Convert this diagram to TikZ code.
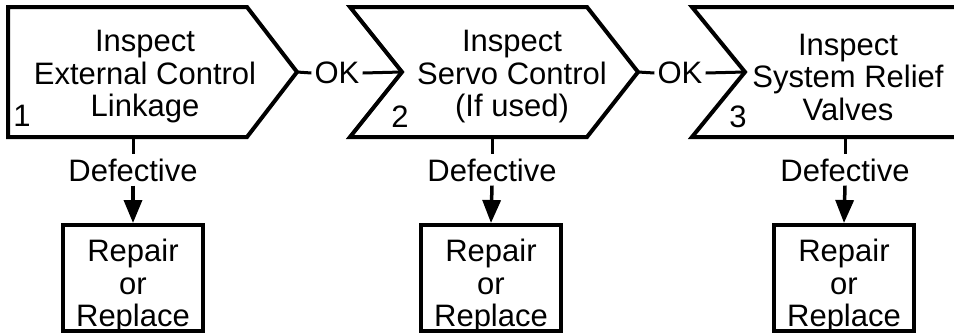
\documentclass[tikz,border=0pt]{standalone}
\usepackage{fontspec}
\setmainfont{Liberation Sans}
\usetikzlibrary{arrows.meta}
\tikzset{
  stepshape/.style={draw=black, line width=4pt, line join=miter, fill=white},
  txt/.style={align=center, inner sep=0pt, font=\fontsize{31}{32.5}\selectfont},
  numtxt/.style={inner sep=0pt, font=\fontsize{31}{32.5}\selectfont},
  lbl/.style={inner sep=4pt, font=\fontsize{31}{32.5}\selectfont},
  repbox/.style={draw=black, line width=4pt, minimum width=140pt, minimum height=106pt, inner sep=0pt},
  conn/.style={line width=3pt},
  arr/.style={line width=3.5pt, -{Triangle[length=23pt,width=18pt]}},
}
\begin{document}
\begin{tikzpicture}[x=1pt, y=-1pt]
\useasboundingbox (0,0) rectangle (954,333);
\clip (0,0) rectangle (954,333);
\fill[white] (0,0) rectangle (954,333);

% step shapes
\draw[stepshape] (8,7) -- (247,7) -- (297,72) -- (247,137) -- (8,137) -- cycle;
\draw[stepshape] (350,7) -- (587,7) -- (638,72) -- (587,137) -- (350,137) -- (402,72) -- cycle;
\draw[stepshape] (692,7) -- (1010,7) -- (1010,137) -- (692,137) -- (745,72) -- cycle;

\coordinate (tip1) at (297,72);
\coordinate (notch2) at (402,72);
\coordinate (tip2) at (638,72);
\coordinate (notch3) at (745,72);
\coordinate (bot1) at (133,137);
\coordinate (bot2) at (492,137);
\coordinate (bot3) at (845,137);

% step texts
\node[txt] (s1) at (145,77) {Inspect\\External Control\\Linkage};
\node[txt] (s2) at (512,77) {Inspect\\Servo Control\\(If used)};
\node[txt] (s3) at (848,77) {Inspect\\System Relief\\Valves};
\node[numtxt] (n1) at (22,116) {1};
\node[numtxt] (n2) at (400,117) {2};
\node[numtxt] (n3) at (738,117) {3};

% OK connectors
\node[lbl, inner sep=3pt] (ok1) at (337,73) {OK};
\node[lbl, inner sep=3pt] (ok2) at (680,73) {OK};
\draw[conn] (tip1) -- (ok1.west);
\draw[conn] (ok1.east) -- (notch2);
\draw[conn] (tip2) -- (ok2.west);
\draw[conn] (ok2.east) -- (notch3);

% Defective labels
\node[lbl] (d1) at (133,170) {Defective};
\node[lbl] (d2) at (492,170) {Defective};
\node[lbl] (d3) at (845,170) {Defective};

% Repair boxes
\node[txt] (rt1) at (133,286) {Repair\\or\\Replace};
\node[txt] (rt2) at (491,286) {Repair\\or\\Replace};
\node[txt] (rt3) at (844,286) {Repair\\or\\Replace};
\node[repbox] (r1) at (133,278) {};
\node[repbox] (r2) at (491,278) {};
\node[repbox] (r3) at (844,278) {};

\draw[conn] (bot1) -- (d1.north);
\draw[conn] (bot2) -- (d2.north);
\draw[conn] (bot3) -- (d3.north);
\draw[arr] (d1.south) -- (r1.north);
\draw[arr] (d2.south) -- (r2.north);
\draw[arr] (d3.south) -- (r3.north);
\end{tikzpicture}
\end{document}
